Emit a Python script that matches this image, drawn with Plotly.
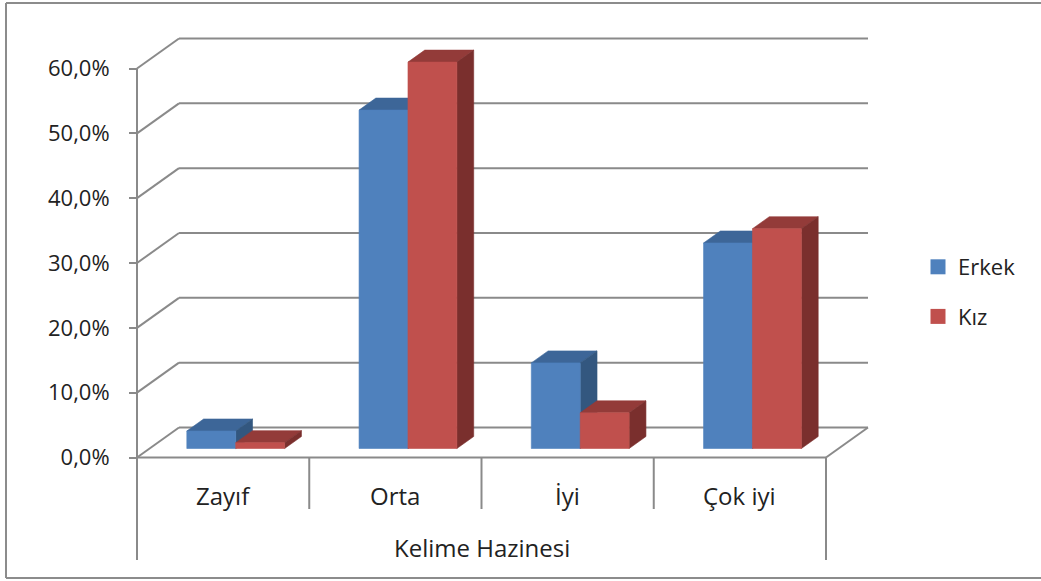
import plotly.graph_objects as go

# ---------------- data ----------------
categories = ["Zayıf", "Orta", "İyi", "Çok iyi"]
erkek = [2.7, 52.2, 13.2, 31.7]
kiz = [0.9, 59.6, 5.5, 33.9]
series_names = ["Erkek", "Kız"]
y_ticks = [0, 10, 20, 30, 40, 50, 60]
y_tick_labels = ["0,0%", "10,0%", "20,0%", "30,0%", "40,0%", "50,0%", "60,0%"]
axis_title = "Kelime Hazinesi"

# ---------------- styling / geometry ----------------
W_PX, H_PX = 1041, 581
X0_PX, UX = 137.0, 172.25          # px of category edge 0, px per category
Y0_PX, UY = 457.5, 6.483           # px of 0 %, px per %
DX = 42.0 / UX                     # depth offset in x units (full depth)
DY = 30.0 / UY                     # depth offset in y units (full depth)
D0, D1 = 0.3, 0.7                  # bar depth span
BW = 0.284                         # bar width in category units
GRID = "#8a8a8a"
FONT = "Open Sans"
TXT = "#222222"
front_cols = ["#4F81BD", "#C0504D"]
top_cols = ["#3D6698", "#933B39"]
side_cols = ["#33577F", "#7A2F2D"]

x_range = [-X0_PX / UX, (W_PX - X0_PX) / UX]
y_range = [(Y0_PX - H_PX) / UY, Y0_PX / UY]
ncat = len(categories)


def proj(x, v, d):
    return x + d * DX, v + d * DY


fig = go.Figure()

series_vals = [erkek, kiz]
for s, vals in enumerate(series_vals):
    faces = {"top": ([], []), "side": ([], []), "front": ([], [])}
    for i, v in enumerate(vals):
        x0 = i + 0.5 - BW + s * BW
        x1 = x0 + BW
        polys = {
            "top": [(x0, v, D0), (x1, v, D0), (x1, v, D1), (x0, v, D1)],
            "side": [(x1, 0, D0), (x1, v, D0), (x1, v, D1), (x1, 0, D1)],
            "front": [(x0, 0, D0), (x1, 0, D0), (x1, v, D0), (x0, v, D0)],
        }
        for k, pts in polys.items():
            for p in pts + [pts[0]]:
                px, py = proj(*p)
                faces[k][0].append(px)
                faces[k][1].append(py)
            faces[k][0].append(None)
            faces[k][1].append(None)
    for k, col in (("top", top_cols[s]), ("side", side_cols[s]), ("front", front_cols[s])):
        fig.add_trace(go.Scatter(
            x=faces[k][0], y=faces[k][1], mode="lines", fill="toself",
            fillcolor=col, line=dict(color=col, width=0.6),
            hoverinfo="skip", showlegend=False))

# legend entries
for s, name in enumerate(series_names):
    fig.add_trace(go.Scatter(
        x=[None], y=[None], mode="markers", name=name,
        marker=dict(symbol="square", size=15, color=front_cols[s]),
        legendgroup=name, showlegend=True))

# ---------------- walls, floor, grid ----------------
shapes = []
def line(xa, ya, xb, yb, width=2):
    shapes.append(dict(type="line", xref="x", yref="y", x0=xa, y0=ya, x1=xb, y1=yb,
                       line=dict(color=GRID, width=width), layer="below"))

for t in y_ticks:
    bx, by = proj(0, t, 1)
    ex, ey = proj(ncat, t, 1)
    line(0, t, bx, by)
    line(bx, by, ex, ey)
# floor front & right edge
line(0, 0, ncat, 0)
fx, fy = proj(ncat, 0, 1)
line(ncat, 0, fx, fy)
# vertical axis
line(0, 0, 0, max(y_ticks))
# category table
bottom_v = (Y0_PX - 560) / UY
mid_v = (Y0_PX - 509) / UY
line(0, 0, 0, bottom_v)
line(ncat, 0, ncat, bottom_v)
for i in range(1, ncat):
    line(i, 0, i, mid_v)

# outer border
def pline(xa, ya, xb, yb):
    shapes.append(dict(type="line", xref="paper", yref="paper", x0=xa, y0=ya, x1=xb, y1=yb,
                       line=dict(color="#8c8c8c", width=2), layer="above"))
pline(6 / W_PX, 1 - 3 / H_PX, 6 / W_PX, 1 - 578 / H_PX)
pline(6 / W_PX, 1 - 3 / H_PX, 1.01, 1 - 3 / H_PX)
pline(6 / W_PX, 1 - 578 / H_PX, 1.01, 1 - 578 / H_PX)

# ---------------- annotations ----------------
annotations = []
cat_v = (Y0_PX - 495) / UY
for i, c in enumerate(categories):
    annotations.append(dict(x=i + 0.5, y=cat_v, xref="x", yref="y", text=c,
                            showarrow=False, xanchor="center", yanchor="middle",
                            font=dict(family=FONT, size=24, color=TXT)))
annotations.append(dict(x=ncat / 2, y=(Y0_PX - 547) / UY, xref="x", yref="y", text=axis_title,
                        showarrow=False, xanchor="center", yanchor="middle",
                        font=dict(family=FONT, size=24, color=TXT)))

fig.update_layout(
    width=W_PX, height=H_PX,
    margin=dict(l=0, r=0, t=0, b=0),
    paper_bgcolor="white", plot_bgcolor="white",
    xaxis=dict(range=x_range, visible=False, fixedrange=True),
    yaxis=dict(range=y_range, anchor="free", position=X0_PX / W_PX,
               tickvals=y_ticks, ticktext=y_tick_labels, ticks="outside",
               ticklen=8, tickwidth=2, tickcolor=GRID, showgrid=False,
               zeroline=False, showline=False, ticklabelstandoff=15,
               tickfont=dict(family=FONT, size=22, color=TXT), fixedrange=True),
    shapes=shapes,
    annotations=annotations,
    showlegend=True,
    legend=dict(x=918 / W_PX, y=1 - 246 / H_PX, xanchor="left", yanchor="top",
                font=dict(family=FONT, size=22, color=TXT), tracegroupgap=18,
                bgcolor="rgba(0,0,0,0)", itemclick=False, itemdoubleclick=False),
)

fig.write_html("out.html", config={"displayModeBar": False},
               post_script="document.body.style.margin='0';document.body.style.overflow='hidden';")
